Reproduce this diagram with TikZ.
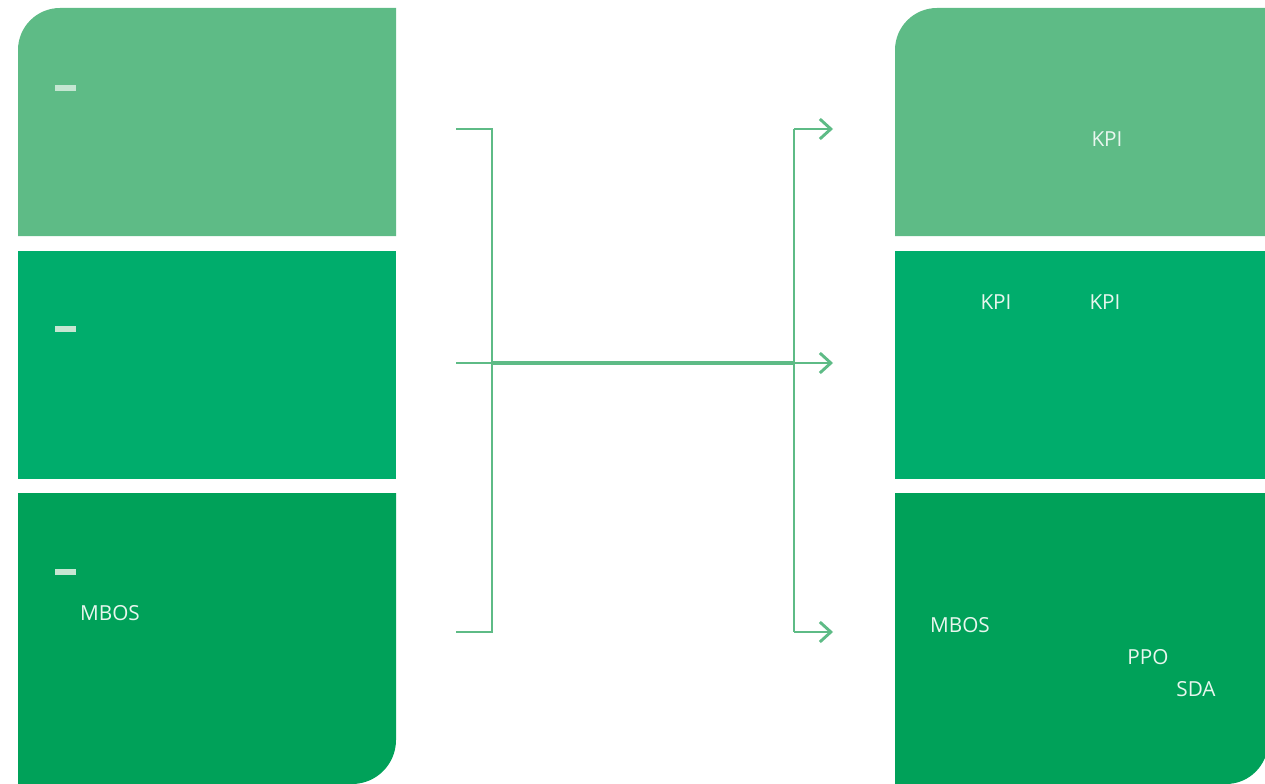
\documentclass[tikz,border=0pt]{standalone}
\usepackage{fontspec}
\setmainfont{Open Sans}
\usetikzlibrary{arrows.meta}
\definecolor{gA}{HTML}{5EBB86}
\definecolor{gB}{HTML}{00AD6C}
\definecolor{gC}{HTML}{00A159}
\definecolor{lineG}{HTML}{5EBB86}
\definecolor{txtc}{HTML}{E8F6EE}
\definecolor{dashc}{HTML}{C5E6D2}
\tikzset{
  lbl/.style={text=txtc, font=\fontsize{11.8}{14}\selectfont, inner sep=0pt, anchor=center},
  dashbar/.style={fill=dashc, draw=none},
  conn/.style={draw=lineG, line width=0.058cm, line cap=butt},
  thickconn/.style={draw=lineG, line width=0.08cm},
  arr/.style={-{Straight Barb[length=0.22cm, width=0.4cm, line width=0.058cm]}},
}
\begin{document}
\begin{tikzpicture}[x=0.02cm,y=-0.02cm]
\useasboundingbox (0,0) rectangle (1265,784);
\begin{scope}
\clip (0,0) rectangle (1265,784);
% left column
\fill[gA] (396,236) -- (18,236) [rounded corners=0.84cm] -- (18,8) [sharp corners] -- (396,8) -- cycle;
\fill[gB] (18,251) rectangle (396,479);
\fill[gC] (18,493) -- (18,784) [rounded corners=0.88cm] -- (396,784) [sharp corners] -- (396,493) -- cycle;
% right column
\fill[gA] (1268,236) -- (895,236) [rounded corners=0.84cm] -- (895,8) [sharp corners] -- (1268,8) -- cycle;
\fill[gB] (895,251) rectangle (1268,479);
\fill[gC] (895,493) -- (895,784) [rounded corners=0.84cm] -- (1268,784) [sharp corners] -- (1268,493) -- cycle;
\end{scope}
% dash bars
\fill[dashbar] (55,85) rectangle (76,91);
\fill[dashbar] (55,326) rectangle (76,332);
\fill[dashbar] (55,569) rectangle (76,575);
% texts
\node[lbl] (lmbos) at (110,613) {MBOS};
\node[lbl] (kpiA) at (1107,139) {KPI};
\node[lbl] (kpiB) at (996,302) {KPI};
\node[lbl] (kpiC) at (1105,302) {KPI};
\node[lbl] (rmbos) at (960,625) {MBOS};
\node[lbl] (ppo) at (1148,657) {PPO};
\node[lbl] (sda) at (1196,689) {SDA};
% connector coordinates
\coordinate (s1) at (456,129);
\coordinate (s2) at (456,363);
\coordinate (s3) at (456,632);
\coordinate (b1) at (492,129);
\coordinate (b2) at (492,363);
\coordinate (b3) at (492,632);
\coordinate (c1) at (794,129);
\coordinate (c2) at (794,363);
\coordinate (c3) at (794,632);
\coordinate (e1) at (833,129);
\coordinate (e2) at (833,363);
\coordinate (e3) at (833,632);
% left bracket
\draw[conn] (s1) -- (b1) -- (b3) -- (s3);
% middle line
\draw[conn, arr] (s2) -- (e2);
\draw[thickconn] (b2) -- (c2);
% right bracket
\draw[conn] (c1) -- (c3);
\draw[conn, arr] (c1) -- (e1);
\draw[conn, arr] (c3) -- (e3);
\end{tikzpicture}
\end{document}
